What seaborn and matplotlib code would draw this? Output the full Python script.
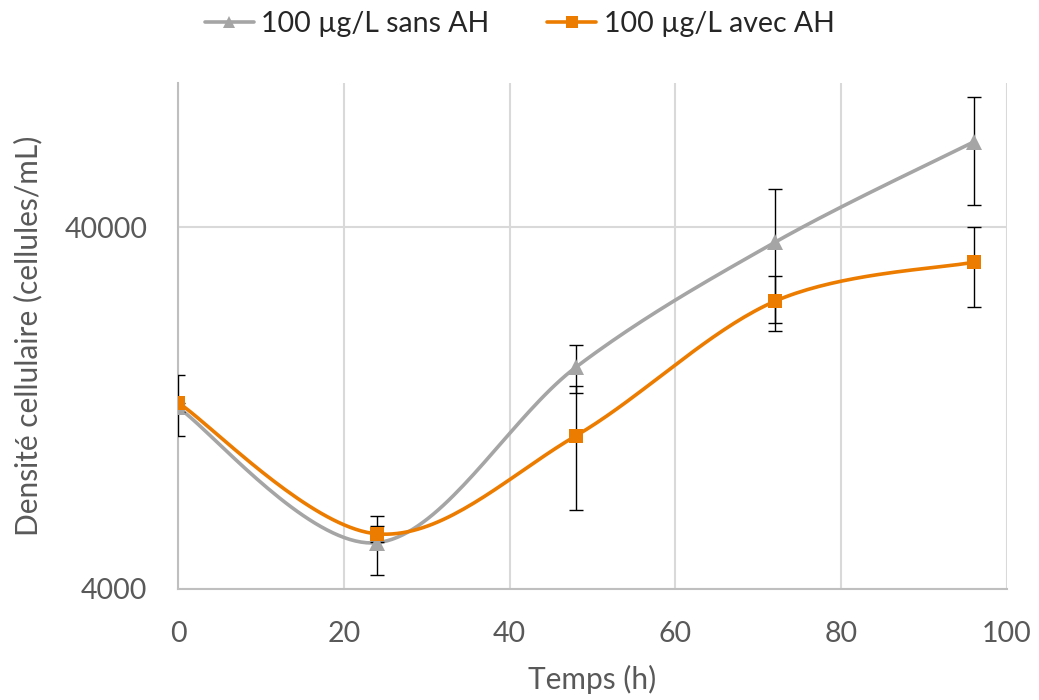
import numpy as np
import pandas as pd
import matplotlib
matplotlib.use("Agg")
import matplotlib.pyplot as plt
from matplotlib.lines import Line2D
import seaborn as sns

# ---- data ----
time_h = [0, 24, 48, 72, 96]
sans_ah_mean = [12700, 5370, 16400, 36300, 68800]
sans_ah_err = [400, 1000, 2450, 14600, 22800]
avec_ah_mean = [13100, 5680, 10600, 24950, 32000]
avec_ah_err = [2500, 300, 3980, 4300, 8000]
series_labels = ["100 µg/L sans AH", "100 µg/L avec AH"]
x_ticks = [0, 20, 40, 60, 80, 100]
y_ticks = [4000, 40000]
y_tick_labels = ["4000", "40000"]

GRAY = "#A5A5A5"
ORANGE = "#EC7C00"
TXT = "#595959"
GRID = "#D9D9D9"

sns.set_theme(style="white")
plt.rcParams["font.family"] = ["Lato", "DejaVu Sans"]


def smooth(xs, ys, n=40):
    """Excel-like Bezier smoothing in screen space (x, log10 y)."""
    px = np.asarray(xs, float)
    py = np.log10(np.asarray(ys, float))
    P = np.column_stack([px, py])
    Pe = np.vstack([P[0], P, P[-1]])
    out = []
    for i in range(len(P) - 1):
        p0, p1, p2, p3 = Pe[i], Pe[i + 1], Pe[i + 2], Pe[i + 3]
        c1 = p1 + (p2 - p0) / 6.0
        c2 = p2 - (p3 - p1) / 6.0
        t = np.linspace(0, 1, n)[:, None]
        seg = ((1 - t) ** 3) * p1 + 3 * ((1 - t) ** 2) * t * c1 + 3 * (1 - t) * t ** 2 * c2 + t ** 3 * p2
        out.append(seg if i == 0 else seg[1:])
    out = np.vstack(out)
    return out[:, 0], 10 ** out[:, 1]


fig = plt.figure(figsize=(10.39, 7.0), dpi=100)
ax = fig.add_axes([0.1713, 0.1586, 0.7979, 0.7228])

series = [
    (sans_ah_mean, sans_ah_err, GRAY, "^", 11),
    (avec_ah_mean, avec_ah_err, ORANGE, "s", 10),
]

for mean, err, col, mk, ms in series:
    sx, sy = smooth(time_h, mean)
    df = pd.DataFrame({"x": sx, "y": sy})
    sns.lineplot(data=df, x="x", y="y", ax=ax, color=col, lw=2.6, sort=False,
                 estimator=None, zorder=3)

for mean, err, col, mk, ms in series:
    ax.errorbar(time_h, mean, yerr=err, fmt="none", ecolor="black",
                elinewidth=1.0, capsize=4.8, capthick=1.0, zorder=4)

for mean, err, col, mk, ms in series:
    ax.plot(time_h, mean, linestyle="none", marker=mk, markersize=ms,
            color=col, markeredgewidth=0, zorder=5)

ax.set_yscale("log")
ax.set_xlim(0, 100)
ax.set_ylim(4000, 100000)
ax.set_xticks(x_ticks)
ax.set_xticklabels([str(v) for v in x_ticks])
ax.set_yticks(y_ticks)
ax.set_yticklabels(y_tick_labels)
ax.yaxis.set_minor_locator(matplotlib.ticker.NullLocator())
ax.tick_params(axis="both", length=0, labelsize=20.5, colors=TXT)
ax.tick_params(axis="y", pad=22)
ax.tick_params(axis="x", pad=23)

ax.grid(True, axis="both", color=GRID, lw=1.5, zorder=0)
ax.set_axisbelow(True)
for s in ["top", "right"]:
    ax.spines[s].set_visible(False)
for s in ["left", "bottom"]:
    ax.spines[s].set_color("#BFBFBF")
    ax.spines[s].set_linewidth(1.5)

ax.set_xlabel("Temps (h)", fontsize=21.5, color=TXT, labelpad=13)
ax.set_ylabel("Densité cellulaire (cellules/mL)", fontsize=21.5, color=TXT, labelpad=16)

handles = [
    Line2D([0], [0], color=GRAY, lw=2.6, marker="^", markersize=9, markeredgewidth=0),
    Line2D([0], [0], color=ORANGE, lw=2.6, marker="s", markersize=8, markeredgewidth=0),
]
fig.legend(handles, series_labels, loc="center", bbox_to_anchor=(0.5, 0.966), ncol=2,
           frameon=False, fontsize=20.5, handlelength=1.75, handletextpad=0.25,
           columnspacing=2.0)

fig.savefig("out.png", dpi=100)
